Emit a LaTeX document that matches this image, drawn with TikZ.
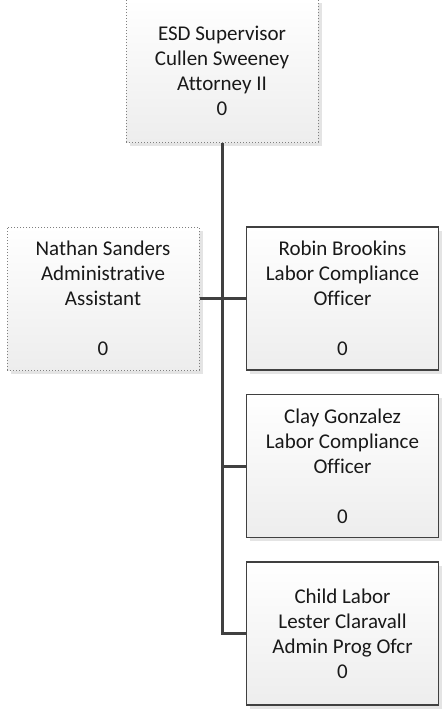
\documentclass[tikz,border=0pt]{standalone}
\usepackage{fontspec}
\setmainfont{Carlito}[Ligatures={NoCommon}]
\usetikzlibrary{shadows}
\definecolor{edgegray}{HTML}{404040}
\definecolor{dotgray}{HTML}{7F7F7F}
\definecolor{shadowgray}{HTML}{E4E4E4}
\definecolor{fillbottom}{HTML}{EDEDED}
\tikzset{
  orgbox/.style={rectangle, minimum width=192pt, minimum height=143pt,
    inner sep=0pt, align=center, top color=white, bottom color=fillbottom,
    general shadow={fill=shadowgray, shadow xshift=3.5pt, shadow yshift=-3.5pt},
    font=\fontsize{21pt}{25pt}\selectfont, text=black!90},
  solidbox/.style={orgbox, draw=edgegray, line width=1.1pt},
  dotbox/.style={orgbox, draw=dotgray, dotted, line width=1pt},
  link/.style={draw=edgegray, line width=3pt}
}
\begin{document}
\begin{tikzpicture}[x=1pt,y=-1pt]
\useasboundingbox (0,0) rectangle (445,710);
\node[dotbox] (top) at (222,70.5) {ESD Supervisor\\Cullen Sweeney\\Attorney II\\0};
\node[dotbox] (nathan) at (103,298.5) {Nathan Sanders\\Administrative\\Assistant\\[25pt]0};
\node[solidbox] (robin) at (342.5,298.5) {Robin Brookins\\Labor Compliance\\Officer\\[25pt]0};
\node[solidbox] (clay) at (342.5,466) {Clay Gonzalez\\Labor Compliance\\Officer\\[25pt]0};
\node[solidbox] (child) at (342.5,633.5) {Child Labor\\Lester Claravall\\Admin Prog Ofcr\\0};
\coordinate (trunkend) at (top.south |- child.west);
\coordinate (claytap) at (top.south |- clay.west);
\draw[link] (top.south) -- (trunkend) -- (child.west);
\draw[link] (claytap) -- (clay.west);
\draw[link] (nathan.east) -- (robin.west);
\end{tikzpicture}
\end{document}
